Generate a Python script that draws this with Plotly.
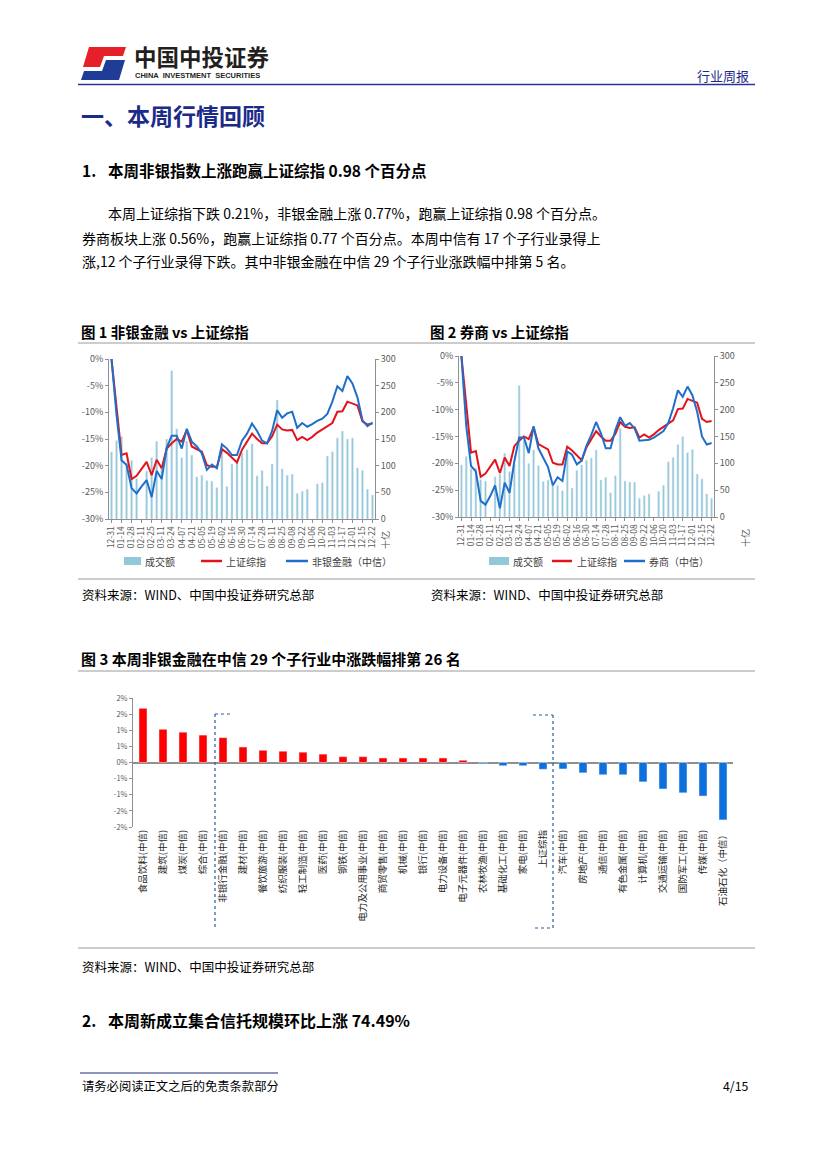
import plotly.graph_objects as go

W, H = 827, 1169


def X(p):
    return p / W


def Y(p):
    return 1 - p / H


# ---------------- data ----------------
weeks = ["12-31", "01-06", "01-14", "01-20", "01-28", "02-03", "02-11", "02-17", "02-25", "03-03",
         "03-11", "03-17", "03-24", "03-31", "04-07", "04-14", "04-21", "04-28", "05-05", "05-12",
         "05-19", "05-26", "06-02", "06-09", "06-16", "06-23", "06-30", "07-07", "07-14", "07-21",
         "07-28", "08-04", "08-11", "08-18", "08-25", "09-01", "09-08", "09-15", "09-22", "09-29",
         "10-06", "10-13", "10-20", "10-27", "11-03", "11-10", "11-17", "11-24", "12-01", "12-08",
         "12-15", "12-19", "12-22"]

# 上证综指 cumulative change (%)
sh_comp = [0, -9.5, -18, -17.7, -22.5, -21.9, -20.6, -19.3, -21.8, -18.9,
           -20.5, -16.8, -15.8, -15, -15.5, -13.3, -16.4, -16.9, -17.4, -19.9,
           -20.2, -20.2, -16.9, -17.6, -18.5, -19.4, -17, -15.6, -14, -15,
           -15.8, -15.8, -14.5, -12.3, -13.2, -13.4, -13.3, -15.2, -14.6, -15.2,
           -14.6, -13.8, -13.2, -12.6, -12, -9.9, -9.8, -8, -8.3, -8.7,
           -11.7, -12.3, -12.1]

# 非银金融(中信) cumulative change (%)
nonbank = [0, -10.5, -19, -19.9, -24.2, -25.2, -23.9, -22.7, -25.9, -21,
           -22.5, -16.6, -14.4, -14.4, -16.8, -13.1, -15.5, -16.4, -17.7, -20.8,
           -19.8, -20.5, -16, -16.8, -18, -18, -15.3, -14, -12.1, -13.5,
           -15.3, -15.8, -13.5, -9.6, -11, -10.2, -9.9, -12.9, -12, -12.7,
           -12.2, -11.6, -11.2, -10.3, -8, -5.1, -6, -3.2, -4.6, -7.2,
           -11.5, -12.6, -11.9]

# 券商(中信) cumulative change (%)
broker = [0, -13, -20.5, -21.5, -27, -27.7, -26.1, -24.1, -28.4, -23.6,
          -25.5, -19.6, -15.2, -15.2, -18.1, -13.1, -17.2, -18.9, -20.7, -24.1,
          -22.6, -23.3, -17.8, -18.4, -20.2, -19.5, -16.7, -14.7, -12.3, -14.4,
          -17.2, -17.2, -13.8, -11.4, -13, -12.5, -13.5, -15.8, -15.7, -15.6,
          -15.2, -14.6, -14, -12.5, -9.75, -6.4, -7.6, -5.7, -7.3, -10.4,
          -15, -16.5, -16.2]

# 成交额 (十亿)
vol_nonbank = [126, 147, 155, 105, 110, 76, 0, 90, 115, 146,
               95, 150, 278, 169, 115, 146, 120, 79, 82, 72,
               71, 59, 135, 61, 103, 110, 124, 130, 141, 81,
               91, 62, 103, 223, 94, 82, 84, 48, 52, 56,
               0, 66, 68, 118, 126, 152, 165, 150, 152, 96,
               91, 56, 45]

vol_broker = [97, 113, 90, 91, 70, 67, 0, 75, 80, 119,
              85, 98, 245, 143, 100, 125, 96, 66, 69, 60,
              59, 49, 122, 54, 87, 97, 106, 110, 125, 69,
              74, 45, 77, 165, 67, 65, 65, 35, 40, 43,
              0, 48, 59, 103, 111, 135, 150, 120, 126, 80,
              71, 43, 35]

industries = ["食品饮料(中信)", "建筑(中信)", "煤炭(中信)", "综合(中信)", "非银行金融(中信)",
              "建材(中信)", "餐饮旅游(中信)", "纺织服装(中信)", "轻工制造(中信)", "医药(中信)",
              "钢铁(中信)", "电力及公用事业(中信)", "商贸零售(中信)", "机械(中信)", "银行(中信)",
              "电力设备(中信)", "电子元器件(中信)", "农林牧渔(中信)", "基础化工(中信)", "家电(中信)",
              "上证综指", "汽车(中信)", "房地产(中信)", "通信(中信)", "有色金属(中信)",
              "计算机(中信)", "交通运输(中信)", "国防军工(中信)", "传媒(中信)", "石油石化（中信）"]
ind_chg = [1.68, 1.03, 0.94, 0.85, 0.77, 0.48, 0.38, 0.35, 0.32, 0.26,
           0.18, 0.18, 0.14, 0.14, 0.14, 0.14, 0.07, -0.04, -0.10, -0.10,
           -0.21, -0.20, -0.32, -0.38, -0.38, -0.60, -0.82, -0.94, -1.04, -1.78]

pct_ticks = [2, 1.5, 1, 0.5, 0, -0.5, -1, -1.5, -2]
pct_ticktext = ["2%", "2%", "1%", "1%", "0%", "-1%", "-1%", "-2%", "-2%"]
line_ticks = [0, -5, -10, -15, -20, -25, -30]
line_ticktext = ["0%", "-5%", "-10%", "-15%", "-20%", "-25%", "-30%"]

# ---------------- style ----------------
FONT = "Noto Sans CJK SC"
RED = "#e3131b"
BLUE = "#1f6fc9"
BARC = "#93c8d9"
C3_RED = "#fe0000"
C3_BLUE = "#0e70dc"
AX = "#8f8f8f"
TK = "#595959"
NAVY = "#1c2a8a"

fig = go.Figure()

# chart 1
fig.add_trace(go.Bar(x=weeks, y=vol_nonbank, name="成交额", marker_color=BARC, width=0.42,
                     xaxis="x", yaxis="y"))
fig.add_trace(go.Scatter(x=weeks, y=sh_comp, name="上证综指", mode="lines",
                         line=dict(color=RED, width=2), xaxis="x", yaxis="y2"))
fig.add_trace(go.Scatter(x=weeks, y=nonbank, name="非银金融（中信）", mode="lines",
                         line=dict(color=BLUE, width=2), xaxis="x", yaxis="y2"))
# chart 2
fig.add_trace(go.Bar(x=weeks, y=vol_broker, name="成交额", marker_color=BARC, width=0.42,
                     xaxis="x2", yaxis="y3"))
fig.add_trace(go.Scatter(x=weeks, y=sh_comp, name="上证综指", mode="lines",
                         line=dict(color=RED, width=2), xaxis="x2", yaxis="y4"))
fig.add_trace(go.Scatter(x=weeks, y=broker, name="券商（中信）", mode="lines",
                         line=dict(color=BLUE, width=2), xaxis="x2", yaxis="y4"))
# chart 3
fig.add_trace(go.Bar(x=industries, y=ind_chg, width=0.4,
                     marker_color=[C3_RED if v > 0 else C3_BLUE for v in ind_chg],
                     xaxis="x3", yaxis="y5"))


def xcat(dom):
    return dict(domain=dom, type="category", tickmode="array", tickvals=weeks[::2],
                tickangle=-90, tickfont=dict(size=8.5, color=TK, family=FONT),
                showline=True, linecolor=AX, linewidth=1, ticks="outside", ticklen=3,
                tickcolor=AX, showgrid=False, zeroline=False, range=[-0.5, len(weeks) - 0.5],
                fixedrange=True)


def yvol(dom, anchor):
    return dict(domain=dom, anchor=anchor, side="right", range=[0, 300], dtick=50,
                showline=True, linecolor=AX, ticks="outside", ticklen=3, tickcolor=AX,
                tickfont=dict(size=9, color=TK, family=FONT), showgrid=False, zeroline=False)


def ypct(over, anchor):
    return dict(overlaying=over, anchor=anchor, side="left", range=[-30, 0],
                tickmode="array", tickvals=line_ticks, ticktext=line_ticktext,
                showline=True, linecolor=AX, ticks="outside", ticklen=3, tickcolor=AX,
                tickfont=dict(size=9, color=TK, family=FONT), showgrid=False, zeroline=False)


x1 = xcat([X(109), X(375)])
x1["anchor"] = "y"
x2 = xcat([X(459), X(714)])
x2["anchor"] = "y3"

shapes = []


def hline(y, x0, x1_, color, width=1):
    shapes.append(dict(type="line", xref="paper", yref="paper", x0=X(x0), x1=X(x1_),
                       y0=Y(y), y1=Y(y), line=dict(color=color, width=width)))


hline(84.5, 78, 755, "#2e3192", 1.5)
hline(343, 78, 755, "#9a9a9a", 1)
hline(579, 78, 755, "#9a9a9a", 1)
hline(671, 78, 755, "#9a9a9a", 1)
hline(948, 78, 755, "#9a9a9a", 1)
hline(1073, 80, 278, "#1c2a7a", 1)

# dashed brackets in chart 3
dash = dict(color="#2460a8", width=1.2, dash="dot")
for (xa, xb, ya, yb) in [(3.6, 3.6, 714, 928), (3.6, 4.5, 714, 714),
                         (19.5, 20.5, 715, 715), (20.5, 20.5, 715, 928),
                         (19.6, 20.5, 928, 928)]:
    shapes.append(dict(type="line", xref="x3", yref="paper", x0=xa, x1=xb,
                       y0=Y(ya), y1=Y(yb), line=dash))


def poly(pts):
    return "M " + " L ".join(f"{X(a):.5f},{Y(b):.5f}" for a, b in pts) + " Z"


shapes.append(dict(type="path", xref="paper", yref="paper", line=dict(width=0),
                   fillcolor="#e5202a",
                   path=poly([(89, 47), (126, 47), (123, 56), (104, 56), (100, 67), (83, 67)])))
shapes.append(dict(type="path", xref="paper", yref="paper", line=dict(width=0),
                   fillcolor="#1f3c96",
                   path=poly([(106, 60), (125, 60), (119, 80), (81, 80), (84, 71), (102, 71)])))

ann = []


def text(x, y, s, size, color="#000000", bold=False, anchor="left", family=FONT, angle=0):
    ann.append(dict(x=X(x), y=Y(y), xref="paper", yref="paper", showarrow=False,
                    text=f"<b>{s}</b>" if bold else s, xanchor=anchor, yanchor="middle",
                    textangle=angle, font=dict(size=size, color=color, family=family)))


# legend keys (drawn by hand so spacing matches the report)
def legend_box(x0, x1_, y):
    shapes.append(dict(type="rect", xref="paper", yref="paper", x0=X(x0), x1=X(x1_),
                       y0=Y(y + 4), y1=Y(y - 4), fillcolor=BARC, line=dict(width=0)))


def legend_line(x0, x1_, y, color):
    shapes.append(dict(type="line", xref="paper", yref="paper", x0=X(x0), x1=X(x1_),
                       y0=Y(y), y1=Y(y), line=dict(color=color, width=2.5)))


LEG = "#404040"
legend_box(124, 141, 561)
text(143, 561, fig.data[0].name, 10, LEG)
legend_line(201, 222, 561, RED)
text(224, 561, fig.data[1].name, 10, LEG)
legend_line(286, 308, 561, BLUE)
text(310, 561, fig.data[2].name, 10, LEG)

legend_box(489, 509, 561)
text(511, 561, fig.data[3].name, 10, LEG)
legend_line(552, 572, 561, RED)
text(575, 561, fig.data[4].name, 10, LEG)
legend_line(624, 645, 561, BLUE)
text(647, 561, fig.data[5].name, 10, LEG)

text(132, 55.5, "中国中投证券", 22.5, "#231f20", bold=True)
text(133, 75, "CHINA  INVESTMENT  SECURITIES", 7.5, "#231f20", bold=True,
     family="Liberation Sans")
text(751, 75, "行业周报", 13, NAVY, anchor="right")
text(79, 115, "一、本周行情回顾", 23, NAVY, bold=True)
text(80, 170, "1.", 15.5, bold=True)
text(106, 170, "本周非银指数上涨跑赢上证综指 0.98 个百分点", 15.5, bold=True)
text(106, 213, "本周上证综指下跌 0.21%，非银金融上涨 0.77%，跑赢上证综指 0.98 个百分点。", 14)
text(80, 238, "券商板块上涨 0.56%，跑赢上证综指 0.77 个百分点。本周中信有 17 个子行业录得上", 14)
text(80, 261, "涨,12 个子行业录得下跌。其中非银金融在中信 29 个子行业涨跌幅中排第 5 名。", 14)
text(79, 331, "图 1 非银金融 vs 上证综指", 14.5, bold=True)
text(428, 331, "图 2 券商 vs 上证综指", 14.5, bold=True)
text(385, 540, "十亿", 9, TK, anchor="center", angle=-90)
text(745, 538, "十亿", 9, TK, anchor="center", angle=-90)
text(80, 594, "资料来源：WIND、中国中投证券研究总部", 12.5)
text(429, 594, "资料来源：WIND、中国中投证券研究总部", 12.5)
text(79, 658, "图 3 本周非银金融在中信 29 个子行业中涨跌幅排第 26 名", 15, bold=True)
text(80, 966, "资料来源：WIND、中国中投证券研究总部", 12.5)
text(80, 1020, "2.", 15.5, bold=True)
text(106, 1020, "本周新成立集合信托规模环比上涨 74.49%", 16, bold=True)
text(80, 1086, "请务必阅读正文之后的免责条款部分", 12.3)
text(750, 1086, "4/15", 12.3, anchor="right")

fig.update_layout(
    width=W, height=H, margin=dict(l=0, r=0, t=0, b=0, pad=0, autoexpand=False),
    paper_bgcolor="white", plot_bgcolor="rgba(0,0,0,0)",
    font=dict(family=FONT),
    xaxis=x1,
    yaxis=yvol([Y(519), Y(359)], "x"),
    yaxis2=ypct("y", "x"),
    xaxis2=x2,
    yaxis3=yvol([Y(517), Y(356)], "x2"),
    yaxis4=ypct("y3", "x2"),
    xaxis3=dict(domain=[X(133), X(733)], anchor="y5", type="category", tickangle=-90,
                tickfont=dict(size=9.5, color="#262626", family=FONT), showline=False,
                ticks="", showgrid=False, zeroline=False, range=[-0.5, len(industries) - 0.5]),
    yaxis5=dict(domain=[Y(827), Y(698)], anchor="x3", range=[-2, 2], tickmode="array",
                tickvals=pct_ticks, ticktext=pct_ticktext, showline=True, linecolor=AX,
                ticks="outside", ticklen=3, tickcolor=AX, showgrid=False,
                zeroline=True, zerolinecolor=AX, zerolinewidth=1.5,
                tickfont=dict(size=7.5, color=TK, family=FONT)),
    showlegend=False,
    bargap=0.5,
    shapes=shapes,
    annotations=ann,
)

fig.write_html("out.html", config={"displayModeBar": False},
               post_script="document.body.style.margin='0';document.body.style.overflow='hidden';")
